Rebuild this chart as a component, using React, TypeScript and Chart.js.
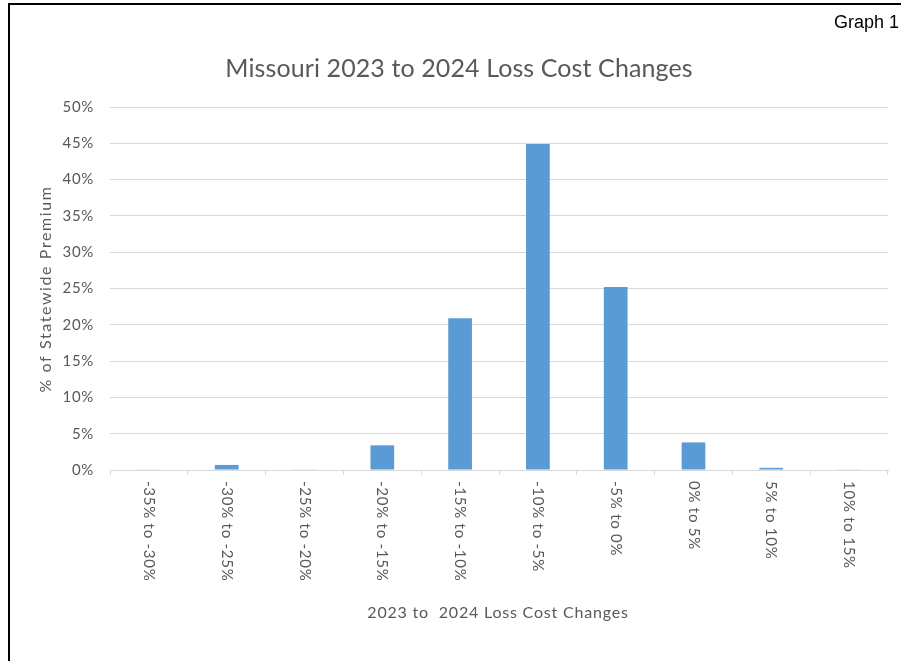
import React, { useEffect, useRef } from "react";
import { Chart, registerables } from "chart.js";

Chart.register(...registerables);

const categories = [
  "-35% to -30%",
  "-30% to -25%",
  "-25% to -20%",
  "-20% to -15%",
  "-15% to -10%",
  "-10% to -5%",
  "-5% to 0%",
  "0% to 5%",
  "5% to 10%",
  "10% to 15%",
];
const premiumShare = [0.05, 0.7, 0.05, 3.4, 20.9, 44.9, 25.2, 3.8, 0.3, 0.05];
const yMax = 50;
const yStep = 5;

const chartTitle = "Missouri 2023 to 2024 Loss Cost Changes";
const xTitle = "2023 to  2024 Loss Cost Changes";
const yTitle = "% of Statewide Premium";
const cornerLabel = "Graph 1";

const FONT = "Lato, 'Open Sans', sans-serif";
const TEXT = "#595959";
const GRID = "#D9D9D9";

const textPlugin = {
  id: "textPlugin",
  beforeDraw(chart: any) {
    (chart.ctx as any).letterSpacing = "0.7px";
  },
  afterDraw(chart: any) {
    const ctx = chart.ctx as any;
    const scale = chart.scales.x;
    ctx.save();
    ctx.fillStyle = TEXT;

    // rotated category labels (reading top to bottom)
    ctx.letterSpacing = "0.75px";
    ctx.font = `15px ${FONT}`;
    ctx.textAlign = "left";
    ctx.textBaseline = "middle";
    const labels = chart.data.labels as string[];
    labels.forEach((lab, i) => {
      const x = scale.getPixelForTick(i);
      const y = scale.top + 11;
      ctx.save();
      ctx.translate(x, y);
      ctx.rotate(Math.PI / 2);
      ctx.fillText(lab, 0, 0);
      ctx.restore();
    });

    // chart title
    ctx.letterSpacing = "0.1px";
    ctx.font = `25px ${FONT}`;
    ctx.textAlign = "center";
    ctx.textBaseline = "middle";
    ctx.fillText(chartTitle, 459, 69);

    // x axis title
    ctx.letterSpacing = "0.8px";
    ctx.font = `16px ${FONT}`;
    ctx.fillText(xTitle, 498, 613);

    // y axis title
    ctx.letterSpacing = "1.6px";
    ctx.save();
    ctx.translate(46, 289);
    ctx.rotate(-Math.PI / 2);
    ctx.fillText(yTitle, 0, 0);
    ctx.restore();

    ctx.restore();
    ctx.letterSpacing = "0px";
  },
};

export default function App() {
  const ref = useRef<HTMLCanvasElement>(null);
  useEffect(() => {
    if (!ref.current) return;
    const chart = new Chart(ref.current, {
      type: "bar",
      data: {
        labels: categories,
        datasets: [
          {
            data: premiumShare,
            backgroundColor: "#5B9BD5",
            categoryPercentage: 1,
            barPercentage: 0.305,
          },
        ],
      },
      options: {
        animation: false,
        responsive: false,
        maintainAspectRatio: false,
        layout: { padding: { left: 0, right: 13, top: 107, bottom: 30 } },
        plugins: {
          legend: { display: false },
          tooltip: { enabled: false },
          title: { display: false },
        },
        scales: {
          x: {
            grid: {
              drawOnChartArea: false,
              drawTicks: true,
              tickLength: 5,
              color: GRID,
              offset: true,
            },
            border: { display: true, color: GRID, width: 1 },
            ticks: {
              color: "rgba(0,0,0,0)",
              minRotation: 90,
              maxRotation: 90,
              autoSkip: false,
              font: { family: FONT, size: 14 },
            },
            afterFit(scale: any) {
              scale.height = 161;
            },
          },
          y: {
            min: 0,
            max: yMax,
            grid: { color: GRID, drawTicks: false },
            border: { display: false },
            ticks: {
              stepSize: yStep,
              padding: 16,
              color: TEXT,
              font: { family: FONT, size: 15 },
              callback: (v: any) => `${v}%`,
            },
            afterFit(scale: any) {
              scale.width = 110;
            },
          },
        },
      },
      plugins: [textPlugin],
    });
    return () => chart.destroy();
  }, []);

  return (
    <div
      style={{
        position: "fixed",
        left: 0,
        top: 0,
        width: 901,
        height: 661,
        overflow: "hidden",
        background: "#fff",
      }}
    >
      <canvas ref={ref} width={901} height={661} style={{ position: "absolute", left: 0, top: 0 }} />
      <div
        style={{
          position: "absolute",
          left: 8,
          top: 3,
          width: 1000,
          height: 1000,
          borderTop: "2px solid #000",
          borderLeft: "2px solid #000",
          pointerEvents: "none",
        }}
      />
      <div
        style={{
          position: "absolute",
          left: 834,
          top: 12,
          fontFamily: "'Liberation Sans', Arial, sans-serif",
          fontSize: 18,
          color: "#000",
          whiteSpace: "nowrap",
          lineHeight: "20px",
        }}
      >
        {cornerLabel}
      </div>
    </div>
  );
}
